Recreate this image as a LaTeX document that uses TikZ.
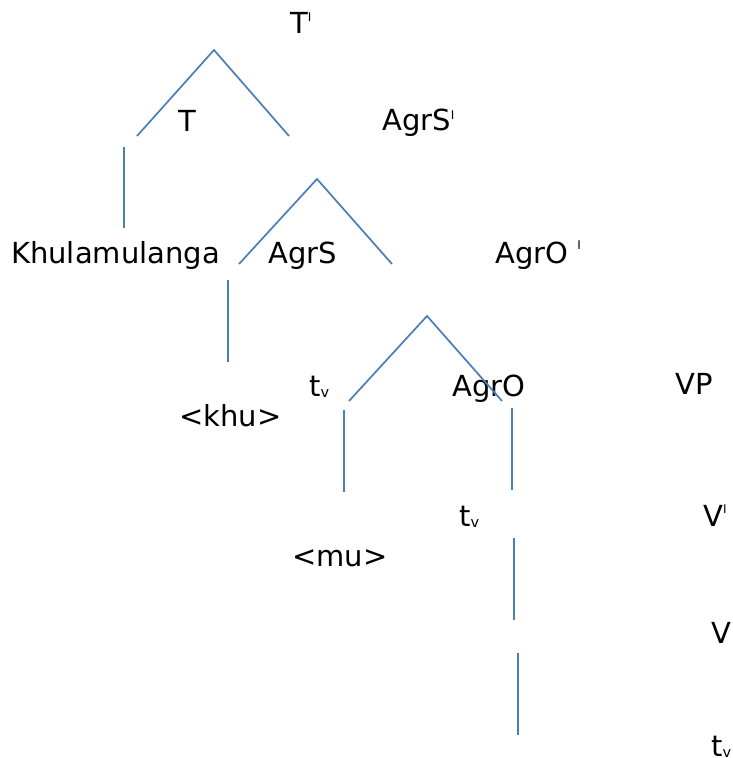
\documentclass[tikz,border=0pt]{standalone}
\usepackage{fontspec}
\setmainfont{DejaVu Sans}
\definecolor{lineblue}{HTML}{4A7EBB}
\newcommand\mysupI[1]{\raisebox{#1pt}{\fontsize{12}{14}\selectfont I}}
\newcommand\mysubv{\raisebox{-1pt}{\fontsize{14.5}{16}\selectfont v}}
\begin{document}
\begin{tikzpicture}[x=1pt,y=-1pt,
  lbl/.style={anchor=base west, inner sep=0pt, font=\fontsize{29}{34}\selectfont},
  branch/.style={draw=lineblue, line width=1.7pt}]
\useasboundingbox (0,0) rectangle (733,758);
% labels
\node[lbl] (Tbar) at (290,33) {T\mysupI{12}};
\node[lbl] (T) at (178,131) {T};
\node[lbl] (AgrSbar) at (382,130) {AgrS\mysupI{11}};
\node[lbl] (Khu) at (11,263) {Khulamulanga};
\node[lbl] (AgrS) at (268,263) {AgrS};
\node[lbl] (AgrObar) at (495,263) {AgrO \mysupI{14}};
\node[lbl] (tv1) at (309,396) {t\mysubv};
\node[lbl] (AgrO) at (452,396) {AgrO};
\node[lbl] (VP) at (675,394) {VP};
\node[lbl] (khu) at (179,426) {<khu>};
\node[lbl] (tv2) at (459,526) {t\mysubv};
\node[lbl] (Vbar) at (703,526) {V\mysupI{13}};
\node[lbl] (mu) at (292,566) {<mu>};
\node[lbl] (V) at (711,643) {V};
\node[lbl] (tv3) at (711,756) {t\mysubv};
% branch points
\coordinate (a0) at (214,50);  \coordinate (a1) at (137,136); \coordinate (a2) at (289,136);
\coordinate (b1) at (124,147); \coordinate (b2) at (124,228);
\coordinate (c0) at (317,179); \coordinate (c1) at (239,264); \coordinate (c2) at (392,264);
\coordinate (d1) at (228,280); \coordinate (d2) at (228,362);
\coordinate (e0) at (427,316); \coordinate (e1) at (349,401); \coordinate (e2) at (502,401);
\coordinate (f1) at (344,410); \coordinate (f2) at (344,492);
\coordinate (g1) at (512,408); \coordinate (g2) at (512,490);
\coordinate (h1) at (514,538); \coordinate (h2) at (514,620);
\coordinate (i1) at (518,653); \coordinate (i2) at (518,735);
% connectors
\draw[branch] (a1) -- (a0) -- (a2);
\draw[branch] (b1) -- (b2);
\draw[branch] (c1) -- (c0) -- (c2);
\draw[branch] (d1) -- (d2);
\draw[branch] (e1) -- (e0) -- (e2);
\draw[branch] (f1) -- (f2);
\draw[branch] (g1) -- (g2);
\draw[branch] (h1) -- (h2);
\draw[branch] (i1) -- (i2);
\end{tikzpicture}
\end{document}
